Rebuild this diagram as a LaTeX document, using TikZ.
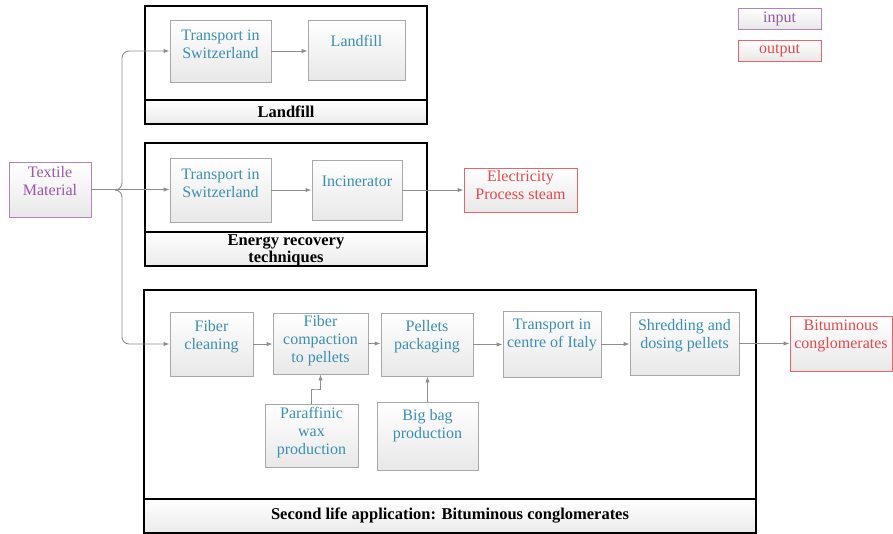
\documentclass[tikz,border=0pt]{standalone}
\usepackage{fontspec}
\setmainfont{Liberation Serif}
\usetikzlibrary{arrows.meta, positioning, calc}
\definecolor{cteal}{HTML}{3A8FB2}
\definecolor{cred}{HTML}{E5484D}
\definecolor{cpurple}{HTML}{9A58A6}
\definecolor{cline}{HTML}{8E8E8E}
\definecolor{cedge}{HTML}{A8A8A8}
\tikzset{
  every picture/.style={line width=0.9pt},
  lift/.style={execute at end node={\rule[-#1]{0pt}{#1}}},
  drop/.style={execute at begin node={\rule{0pt}{#1}}},
  box/.style={draw=cedge, top color=white, bottom color=black!9, text=cteal, align=center, inner sep=1pt, font=\fontsize{16}{18}\selectfont, lift=#1},
  box/.default=18pt,
  inbox/.style={box=#1, draw=cpurple!75, text=cpurple},
  inbox/.default=18pt,
  outbox/.style={box=#1, draw=cred!85, text=cred},
  outbox/.default=18pt,
  frame/.style={draw=black, line width=2.2pt, inner sep=0pt},
  bar/.style={draw=black, line width=2pt, top color=white, bottom color=black!8, inner sep=0pt, align=center, font=\bfseries\fontsize{16.5}{13}\selectfont},
  link/.style={draw=cline, line width=0.9pt, -{Latex[length=6pt, width=4.5pt]}},
}

\begin{document}
\begin{tikzpicture}[x=1pt, y=-1pt]
  \useasboundingbox (0,0) rectangle (893,534);
  % group frames
  \node[frame, minimum width=282pt, minimum height=118pt] (gLf) at (286,65) {};
  \node[bar, minimum width=282pt, minimum height=24pt] (gLfT) at (286,112) {Landfill};
  \node[frame, minimum width=282pt, minimum height=123pt] (gEn) at (286,204.5) {};
  \node[bar, drop=30pt, minimum width=282pt, minimum height=34pt] (gEnT) at (286,249) {Energy recovery\\[1pt] techniques};
  \node[frame, minimum width=612pt, minimum height=243pt] (gSl) at (450,411.5) {};
  \node[bar, minimum width=612pt, minimum height=34pt] (gSlT) at (450,516) {Second life application: Bituminous conglomerates};
  % legend
  \node[inbox=0pt, minimum width=83pt, minimum height=21pt] (legIn) at (779.5,18.5) {input};
  \node[outbox=0pt, minimum width=83pt, minimum height=21pt] (legOut) at (779.5,50.5) {output};
  % landfill
  \node[inbox, minimum width=82pt, minimum height=55pt] (tex) at (50,189.5) {Textile\\ Material};
  \node[box=13pt, minimum width=101pt, minimum height=62pt] (trA) at (220.5,51) {Transport in\\ Switzerland};
  \node[box, minimum width=97pt, minimum height=60pt] (lf) at (356.5,50) {Landfill};
  % energy recovery
  \node[box=13pt, minimum width=101pt, minimum height=64pt] (trB) at (220.5,190) {Transport in\\ Switzerland};
  \node[box, minimum width=90pt, minimum height=60pt] (inc) at (357,190) {Incinerator};
  \node[outbox=11pt, minimum width=113pt, minimum height=44pt] (elec) at (520.5,190) {Electricity\\ Process steam};
  % second life
  \node[box, minimum width=83pt, minimum height=64pt] (fc) at (211.5,344) {Fiber\\ cleaning};
  \node[box=9pt, minimum width=95pt, minimum height=61pt] (comp) at (320.5,343.5) {Fiber\\ compaction\\ to pellets};
  \node[box=20pt, minimum width=92pt, minimum height=63pt] (pack) at (427,344.5) {Pellets\\ packaging};
  \node[box=22pt, minimum width=98pt, minimum height=66pt] (trC) at (552,344) {Transport in\\ centre of Italy};
  \node[box=20pt, minimum width=109pt, minimum height=63pt] (shr) at (684.5,343.5) {Shredding and\\ dosing pellets};
  \node[outbox, minimum width=102pt, minimum height=55pt] (bit) at (841,343.5) {Bituminous\\ conglomerates};
  \node[box=9pt, minimum width=93pt, minimum height=63pt] (par) at (311.5,435.5) {Paraffinic\\ wax\\ production};
  \node[box=24pt, minimum width=101pt, minimum height=68pt] (bag) at (427.5,436) {Big bag\\ production};
  % branching from textile material
  \coordinate (jn) at (117,190);
  \coordinate (sp) at (122,0);
  \draw[link] (tex.east) -- (tex.east -| trB.west);
  \draw[link, rounded corners=7pt] (jn) -| (trA.west -| sp) -- (trA.west);
  \draw[link, rounded corners=7pt] (jn) -| (fc.west -| sp) -- (fc.west);
  % flows
  \draw[link] (trA.east) -- (trA.east -| lf.west);
  \draw[link] (trB.east) -- (trB.east -| inc.west);
  \draw[link] (inc.east) -- (inc.east -| elec.west);
  \draw[link] (fc.east) -- (fc.east -| comp.west);
  \draw[link] (comp.east) -- (comp.east -| pack.west);
  \draw[link] (pack.east) -- (pack.east -| trC.west);
  \draw[link] (trC.east) -- (trC.east -| shr.west);
  \draw[link] (shr.east) -- (shr.east -| bit.west);
  \draw[link] (par.north) |- ($(par.north)!0.5!(comp.south)$) -| (comp.south);
  \draw[link] (bag.north) -- (bag.north |- pack.south);
\end{tikzpicture}
\end{document}
